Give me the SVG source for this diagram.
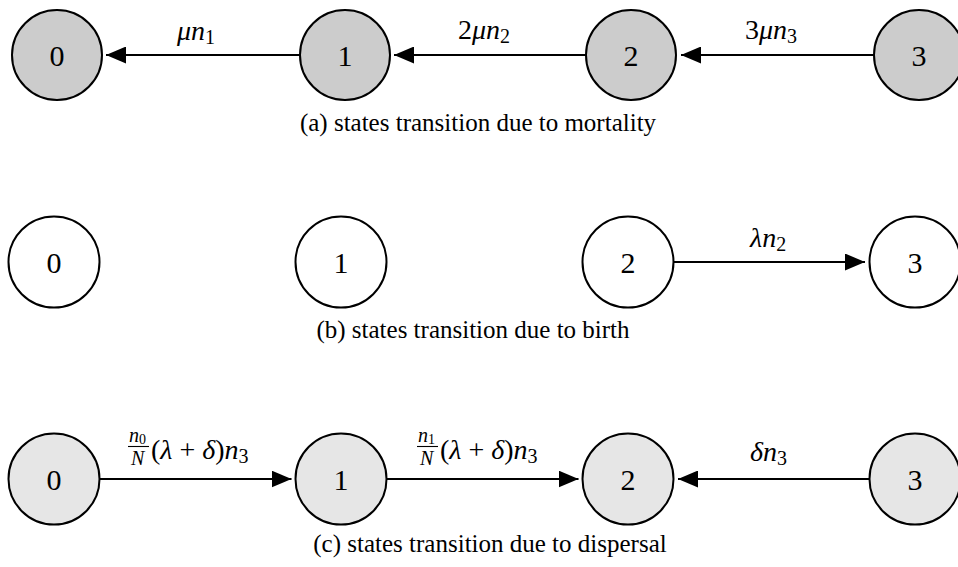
<svg xmlns="http://www.w3.org/2000/svg" width="958" height="567" viewBox="0 0 958 567">
<style>
.n{stroke:#000;stroke-width:2}
.a{fill:#cccccc}
.b{fill:#ffffff}
.c{fill:#e6e6e6}
.t{font-family:"Liberation Serif","Times New Roman",serif;font-size:30px;fill:#000;text-anchor:middle}
.m{font-family:"Liberation Serif","Times New Roman",serif;font-size:28px;fill:#000}
.i{font-style:italic}
.s{font-size:20px;font-style:normal}
.f{font-family:"Liberation Serif","Times New Roman",serif;font-size:20px;font-style:italic;fill:#000}
.fs{font-size:14px;font-style:normal}
.cap{font-family:"Liberation Serif","Times New Roman",serif;font-size:25px;fill:#000;text-anchor:middle}
.e{stroke:#000;stroke-width:1.8;fill:none}
</style>
<defs>
<marker id="ah" viewBox="0 0 20 17" refX="20" refY="8.5" markerWidth="20" markerHeight="17" markerUnits="userSpaceOnUse" orient="auto">
<path d="M0,0 L20,8.5 L0,17 Z" fill="#000"/>
</marker>
</defs>
<g id="row-a">
<g id="a0"><circle class="n a" cx="57" cy="55" r="45"/><text class="t" x="57" y="66">0</text></g>
<g id="a1"><circle class="n a" cx="345" cy="55" r="45"/><text class="t" x="345" y="66">1</text></g>
<g id="a2"><circle class="n a" cx="631" cy="55" r="45"/><text class="t" x="631" y="66">2</text></g>
<g id="a3"><circle class="n a" cx="919" cy="55" r="45"/><text class="t" x="919" y="66">3</text></g>
</g>
<g id="row-b">
<g id="b0"><circle class="n b" cx="54" cy="262" r="45.5"/><text class="t" x="54" y="273">0</text></g>
<g id="b1"><circle class="n b" cx="341" cy="262" r="45.5"/><text class="t" x="341" y="273">1</text></g>
<g id="b2"><circle class="n b" cx="628" cy="262" r="45.5"/><text class="t" x="628" y="273">2</text></g>
<g id="b3"><circle class="n b" cx="915" cy="262" r="45.5"/><text class="t" x="915" y="273">3</text></g>
</g>
<g id="row-c">
<g id="c0"><circle class="n c" cx="54" cy="479" r="45.5"/><text class="t" x="54" y="490">0</text></g>
<g id="c1"><circle class="n c" cx="341" cy="479" r="45.5"/><text class="t" x="341" y="490">1</text></g>
<g id="c2"><circle class="n c" cx="628" cy="479" r="45.5"/><text class="t" x="628" y="490">2</text></g>
<g id="c3"><circle class="n c" cx="915" cy="479" r="45.5"/><text class="t" x="915" y="490">3</text></g>
</g>
<g id="connectors">
<line class="e" x1="300" y1="55" x2="106" y2="55" marker-end="url(#ah)"/>
<line class="e" x1="586" y1="55" x2="394" y2="55" marker-end="url(#ah)"/>
<line class="e" x1="874" y1="55" x2="681" y2="55" marker-end="url(#ah)"/>
<line class="e" x1="673.5" y1="262" x2="865" y2="262" marker-end="url(#ah)"/>
<line class="e" x1="99.5" y1="479" x2="291.5" y2="479" marker-end="url(#ah)"/>
<line class="e" x1="386.5" y1="479" x2="578.5" y2="479" marker-end="url(#ah)"/>
<line class="e" x1="869.5" y1="479" x2="678" y2="479" marker-end="url(#ah)"/>
</g>
<g id="labels">
<text class="m" x="177" y="40"><tspan class="i">μn</tspan><tspan class="s" dy="4">1</tspan></text>
<text class="m" x="458" y="39">2<tspan class="i">μn</tspan><tspan class="s" dy="4">2</tspan></text>
<text class="m" x="745" y="39">3<tspan class="i">μn</tspan><tspan class="s" dy="4">3</tspan></text>
<text class="m" x="750" y="247"><tspan class="i">λn</tspan><tspan class="s" dy="4">2</tspan></text>
<g id="frac0">
<text class="f" x="129" y="442">n<tspan class="fs" dy="2">0</tspan></text>
<line x1="128" y1="446.5" x2="149" y2="446.5" stroke="#000" stroke-width="1.1"/>
<text class="f" x="131" y="465">N</text>
<text class="m" x="151" y="459">(<tspan class="i">λ</tspan> + <tspan class="i">δ</tspan>)<tspan class="i">n</tspan><tspan class="s" dy="4">3</tspan></text>
</g>
<g id="frac1">
<text class="f" x="418" y="442">n<tspan class="fs" dy="2">1</tspan></text>
<line x1="417" y1="446.5" x2="438" y2="446.5" stroke="#000" stroke-width="1.1"/>
<text class="f" x="420" y="465">N</text>
<text class="m" x="440" y="459">(<tspan class="i">λ</tspan> + <tspan class="i">δ</tspan>)<tspan class="i">n</tspan><tspan class="s" dy="4">3</tspan></text>
</g>
<text class="m" x="750" y="461"><tspan class="i">δn</tspan><tspan class="s" dy="4">3</tspan></text>
</g>
<g id="captions">
<text class="cap" x="478" y="131">(a) states transition due to mortality</text>
<text class="cap" x="473" y="338">(b) states transition due to birth</text>
<text class="cap" x="490" y="552">(c) states transition due to dispersal</text>
</g>
</svg>
